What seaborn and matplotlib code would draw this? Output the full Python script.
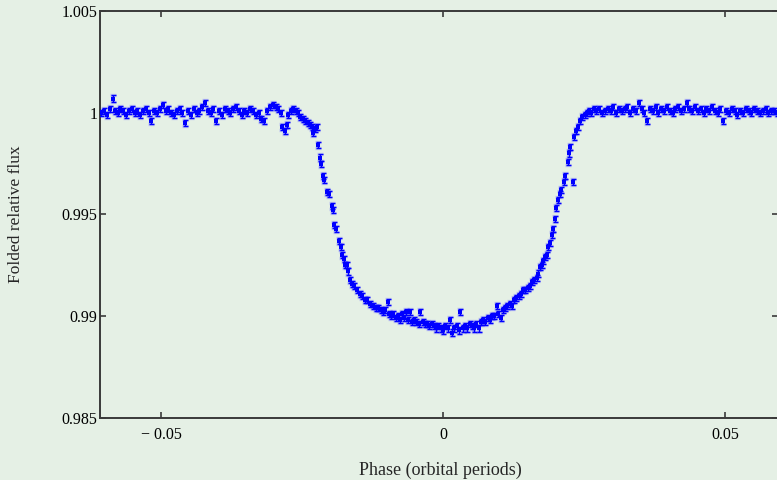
import numpy as np
import pandas as pd
import matplotlib
matplotlib.use("Agg")
import matplotlib.pyplot as plt
import seaborn as sns

# ---- data (phase, folded relative flux) ----
pre_transit = [
    (-0.0606, 1.0000), (-0.0601, 1.0001), (-0.0596, 0.9999), (-0.0591, 1.0002),
    (-0.0586, 1.0007), (-0.0582, 1.0001), (-0.0577, 1.0000), (-0.0572, 1.0002),
    (-0.0567, 1.0001), (-0.0562, 0.9999), (-0.0557, 1.0001), (-0.0552, 1.0002),
    (-0.0547, 1.0000), (-0.0542, 1.0001), (-0.0537, 0.9999), (-0.0532, 1.0001),
    (-0.0527, 1.0002), (-0.0522, 1.0000), (-0.0517, 0.9996), (-0.0512, 1.0001),
    (-0.0507, 1.0000), (-0.0502, 1.0002), (-0.0497, 1.0004), (-0.0492, 1.0001),
    (-0.0487, 1.0002), (-0.0482, 1.0000), (-0.0477, 0.9999), (-0.0472, 1.0001),
    (-0.0467, 1.0002), (-0.0462, 1.0000), (-0.0457, 0.9995), (-0.0452, 1.0001),
    (-0.0447, 0.9999), (-0.0442, 1.0002), (-0.0437, 1.0000), (-0.0432, 1.0001),
    (-0.0427, 1.0003), (-0.0422, 1.0005), (-0.0417, 1.0001), (-0.0412, 1.0000),
    (-0.0407, 1.0002), (-0.0402, 0.9996), (-0.0397, 1.0001), (-0.0392, 0.9999),
    (-0.0387, 1.0002), (-0.0382, 1.0001), (-0.0377, 1.0000), (-0.0372, 1.0002),
    (-0.0367, 1.0003), (-0.0362, 1.0001), (-0.0357, 0.9999), (-0.0352, 1.0001),
    (-0.0347, 1.0000), (-0.0342, 1.0002), (-0.0337, 1.0001), (-0.0332, 0.9999),
    (-0.0327, 1.0000), (-0.0322, 0.9997), (-0.0317, 0.9996), (-0.0312, 1.0001),
    (-0.0307, 1.0003), (-0.0302, 1.0004), (-0.0297, 1.0003), (-0.0292, 1.0002),
]

in_transit = [
    (-0.0288, 1.0000), (-0.0285, 0.9993), (-0.0280, 0.9991), (-0.0277, 0.9994),
    (-0.0275, 0.9999), (-0.0270, 1.0001), (-0.0266, 1.0002), (-0.0261, 1.0001),
    (-0.0257, 1.0000), (-0.0253, 0.9998), (-0.0248, 0.9997), (-0.0244, 0.9996),
    (-0.0239, 0.9995), (-0.0235, 0.9994), (-0.0232, 0.9993), (-0.0231, 0.9990),
    (-0.0227, 0.9992), (-0.0223, 0.9993), (-0.0221, 0.9984), (-0.0218, 0.9978),
    (-0.0217, 0.9975), (-0.0213, 0.9969), (-0.0211, 0.9967), (-0.0205, 0.9961),
    (-0.0203, 0.9960), (-0.0197, 0.9954), (-0.0195, 0.9952), (-0.0193, 0.9945),
    (-0.0189, 0.9943), (-0.0184, 0.9937), (-0.0180, 0.9934), (-0.0179, 0.9930),
    (-0.0176, 0.9928), (-0.0173, 0.9925), (-0.0170, 0.9925), (-0.0168, 0.9922),
    (-0.0165, 0.9918), (-0.0161, 0.9916), (-0.0158, 0.9915), (-0.0153, 0.9913),
    (-0.0148, 0.9911), (-0.0143, 0.9910), (-0.0138, 0.9908), (-0.0134, 0.9908),
    (-0.0129, 0.9906), (-0.0124, 0.9905), (-0.0119, 0.9904), (-0.0115, 0.9904),
    (-0.0110, 0.9903), (-0.0106, 0.9902), (-0.0102, 0.9903), (-0.0098, 0.9907),
    (-0.0096, 0.9901), (-0.0092, 0.9900), (-0.0088, 0.9901), (-0.0084, 0.9899),
    (-0.0080, 0.9900), (-0.0076, 0.9898), (-0.0073, 0.9901), (-0.0069, 0.9899),
    (-0.0066, 0.9902), (-0.0062, 0.9898), (-0.0058, 0.9902), (-0.0055, 0.9897),
    (-0.0051, 0.9898), (-0.0047, 0.9897), (-0.0043, 0.9896), (-0.0040, 0.9902),
    (-0.0036, 0.9897), (-0.0032, 0.9896), (-0.0028, 0.9896), (-0.0024, 0.9895),
    (-0.0020, 0.9896), (-0.0016, 0.9895), (-0.0012, 0.9894), (-0.0008, 0.9895),
    (-0.0004, 0.9894), (0.0000, 0.9893), (0.0004, 0.9895), (0.0008, 0.9894),
    (0.0012, 0.9898), (0.0016, 0.9892), (0.0020, 0.9894), (0.0024, 0.9895),
    (0.0028, 0.9893), (0.0031, 0.9902), (0.0035, 0.9894), (0.0039, 0.9895),
    (0.0043, 0.9894), (0.0047, 0.9896), (0.0051, 0.9895), (0.0055, 0.9894),
    (0.0059, 0.9896), (0.0063, 0.9894), (0.0067, 0.9897), (0.0071, 0.9898),
    (0.0075, 0.9897), (0.0079, 0.9899), (0.0083, 0.9898), (0.0087, 0.9900),
    (0.0091, 0.9900), (0.0095, 0.9905), (0.0098, 0.9901), (0.0102, 0.9899),
    (0.0106, 0.9903), (0.0110, 0.9904), (0.0114, 0.9905), (0.0118, 0.9906),
    (0.0122, 0.9905), (0.0126, 0.9908), (0.0130, 0.9909), (0.0134, 0.9910),
    (0.0138, 0.9911), (0.0142, 0.9913), (0.0146, 0.9913), (0.0150, 0.9914),
    (0.0154, 0.9915), (0.0158, 0.9917), (0.0162, 0.9918), (0.0166, 0.9919),
    (0.0169, 0.9921), (0.0172, 0.9924), (0.0175, 0.9925), (0.0178, 0.9927),
    (0.0181, 0.9929), (0.0184, 0.9930), (0.0187, 0.9934), (0.0190, 0.9936),
    (0.0193, 0.9940), (0.0195, 0.9943), (0.0198, 0.9948), (0.0201, 0.9953),
    (0.0204, 0.9957), (0.0207, 0.9960), (0.0210, 0.9962), (0.0214, 0.9966),
    (0.0216, 0.9969), (0.0221, 0.9976), (0.0224, 0.9980), (0.0226, 0.9983),
    (0.0231, 0.9966), (0.0233, 0.9988), (0.0236, 0.9991), (0.0240, 0.9993),
    (0.0243, 0.9996), (0.0247, 0.9998), (0.0251, 0.9999), (0.0255, 1.0000),
    (0.0259, 1.0001), (0.0263, 1.0000), (0.0267, 1.0002),
]

post_transit = [
    (0.0272, 1.0001), (0.0277, 1.0002), (0.0282, 1.0000), (0.0287, 1.0001),
    (0.0292, 1.0002), (0.0297, 1.0001), (0.0302, 1.0003), (0.0307, 1.0000),
    (0.0312, 1.0002), (0.0317, 1.0001), (0.0322, 1.0002), (0.0327, 1.0003),
    (0.0332, 1.0000), (0.0337, 1.0002), (0.0342, 1.0001), (0.0347, 1.0005),
    (0.0352, 1.0002), (0.0357, 1.0000), (0.0362, 0.9996), (0.0367, 1.0002),
    (0.0372, 1.0001), (0.0377, 1.0003), (0.0382, 1.0000), (0.0387, 1.0002),
    (0.0392, 1.0001), (0.0397, 1.0003), (0.0402, 1.0001), (0.0407, 1.0000),
    (0.0412, 1.0002), (0.0417, 1.0003), (0.0422, 1.0001), (0.0427, 1.0002),
    (0.0432, 1.0005), (0.0437, 1.0002), (0.0442, 1.0001), (0.0447, 1.0003),
    (0.0452, 1.0001), (0.0457, 1.0002), (0.0462, 1.0000), (0.0467, 1.0002),
    (0.0472, 1.0001), (0.0477, 1.0003), (0.0482, 1.0001), (0.0487, 1.0000),
    (0.0492, 1.0002), (0.0497, 0.9996), (0.0502, 1.0001), (0.0507, 1.0000),
    (0.0512, 1.0002), (0.0517, 1.0001), (0.0522, 0.9999), (0.0527, 1.0001),
    (0.0532, 1.0000), (0.0537, 1.0002), (0.0542, 1.0001), (0.0547, 1.0000),
    (0.0552, 1.0002), (0.0557, 1.0001), (0.0562, 1.0000), (0.0567, 1.0001),
    (0.0572, 1.0002), (0.0577, 1.0000), (0.0582, 1.0001), (0.0587, 1.0001),
    (0.0592, 1.0000),
]

flux_err = 0.00015

x_ticks = [-0.05, 0.0, 0.05]
x_tick_labels = ["\u2212 0.05", "0", "0.05"]
y_ticks = [0.985, 0.99, 0.995, 1.0, 1.005]
y_tick_labels = ["0.985", "0.99", "0.995", "1", "1.005"]

df = pd.DataFrame(pre_transit + in_transit + post_transit, columns=["phase", "flux"])

# ---- styling ----
sns.set_theme(style="ticks")
plt.rcParams['font.family'] = ['Liberation Serif', 'DejaVu Serif']
bg = "#E5F0E5"
spine_col = "#3a3a3a"

fig = plt.figure(figsize=(7.77, 4.8), dpi=100, facecolor=bg)
ax = fig.add_axes([100 / 777, 62 / 480, 678 / 777, 407 / 480])
ax.set_facecolor(bg)

# soft halo then crisp error bars
ax.errorbar(df["phase"], df["flux"], yerr=flux_err, fmt="none",
            ecolor="#7070ff", elinewidth=2.8, capsize=2.3, capthick=2.4, alpha=0.35, zorder=2)
ax.errorbar(df["phase"], df["flux"], yerr=flux_err, fmt="none",
            ecolor="#0000ff", elinewidth=1.0, capsize=1.8, capthick=1.0, zorder=3)
sns.scatterplot(data=df, x="phase", y="flux", ax=ax, color="#0000ff",
                s=5, marker="s", linewidth=0, zorder=4)

ax.set_xlim(-0.06082, 0.05940)
ax.set_ylim(0.985, 1.005)
ax.set_xticks(x_ticks)
ax.set_xticklabels(x_tick_labels)
ax.set_yticks(y_ticks)
ax.set_yticklabels(y_tick_labels)
ax.set_xlabel("")
ax.set_ylabel("")

ax.tick_params(axis="both", direction="in", length=4, width=1.2, colors=spine_col,
               labelcolor="black", labelsize=11.5, top=True, right=True)
ax.tick_params(axis="x", pad=6.5)
ax.tick_params(axis="y", pad=2)
for sp in ax.spines.values():
    sp.set_color(spine_col)
    sp.set_linewidth(1.4)
    sp.set_visible(True)

fig.text(16 / 777, 1 - 214 / 480, "Folded relative flux", rotation=90,
         ha="center", va="center", fontsize=12.5)
fig.text(440 / 777, 1 - 470 / 480, "Phase (orbital periods)",
         ha="center", va="center", fontsize=13)

fig.savefig("out.png", dpi=100, facecolor=bg)
